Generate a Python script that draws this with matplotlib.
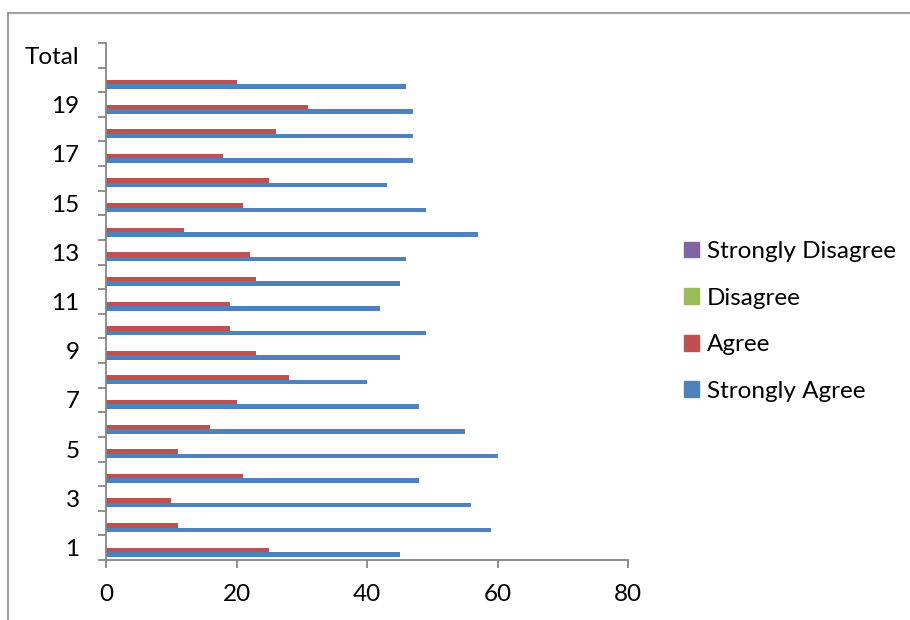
import numpy as np
import matplotlib
matplotlib.use("Agg")
import matplotlib.pyplot as plt
from matplotlib.lines import Line2D
from matplotlib.patches import Patch

plt.rcParams['font.family'] = ['Lato', 'DejaVu Sans']

# data (Total row has no bars)
categories = [str(i) for i in range(1, 21)] + ["Total"]
strongly_agree = [45, 59, 56, 48, 60, 55, 48, 40, 45, 49, 42, 45, 46, 57, 49, 43, 47, 47, 47, 46, 0]
agree = [25, 11, 10, 21, 11, 16, 20, 28, 23, 19, 19, 23, 22, 12, 21, 25, 18, 26, 31, 20, 0]
disagree = [0] * 21
strongly_disagree = [0] * 21

series = [
    ("Strongly Agree", strongly_agree, "#4F81BD"),
    ("Agree", agree, "#C0504D"),
    ("Disagree", disagree, "#9BBB59"),
    ("Strongly Disagree", strongly_disagree, "#8064A2"),
]

axis_grey = "#868686"

fig = plt.figure(figsize=(9.1, 6.2), dpi=100)
ax = fig.add_axes([106 / 910, 1 - 560 / 620, (628 - 106) / 910, (560 - 43) / 620])

y = np.arange(len(categories))
h = 0.183
for k, (name, vals, col) in enumerate(series):
    ax.barh(y + (k - 1.5) * h, vals, height=h, color=col, label=name)

ax.set_xlim(0, 80)
ax.set_ylim(-0.5, len(categories) - 0.5)
ax.set_xticks([0, 20, 40, 60, 80])

# tick marks on category boundaries, labels on every other category
ax.set_yticks(np.arange(-0.5, len(categories), 1))
ax.set_yticklabels([])
ax.set_yticks(y[::2], minor=True)
ax.set_yticklabels(categories[::2], minor=True)

for s in ["top", "right"]:
    ax.spines[s].set_visible(False)
for s in ["left", "bottom"]:
    ax.spines[s].set_color(axis_grey)
    ax.spines[s].set_linewidth(1.3)

ax.tick_params(axis="y", which="major", length=6, width=1.3, color=axis_grey)
ax.tick_params(axis="y", which="minor", length=0, pad=19, labelsize=17.5)
ax.tick_params(axis="x", length=6, width=1.3, color=axis_grey, pad=11, labelsize=17.5)

# chart area border (only left and top visible in the crop)
fig.add_artist(Line2D([8 / 910, 8 / 910], [0, 1 - 13 / 620], color="#8c8c8c", lw=1.2))
fig.add_artist(Line2D([8 / 910, 1], [1 - 13 / 620, 1 - 13 / 620], color="#8c8c8c", lw=1.2))

handles = [Patch(color=c, label=n) for n, _, c in series][::-1]
fig.legend(handles=handles, loc="upper left", bbox_to_anchor=(672 / 910, 1 - 229 / 620),
           frameon=False, fontsize=17.5, handlelength=0.62, handleheight=0.62,
           handletextpad=0.3, labelspacing=1.05, borderpad=0)

fig.savefig("out.png", dpi=100)
